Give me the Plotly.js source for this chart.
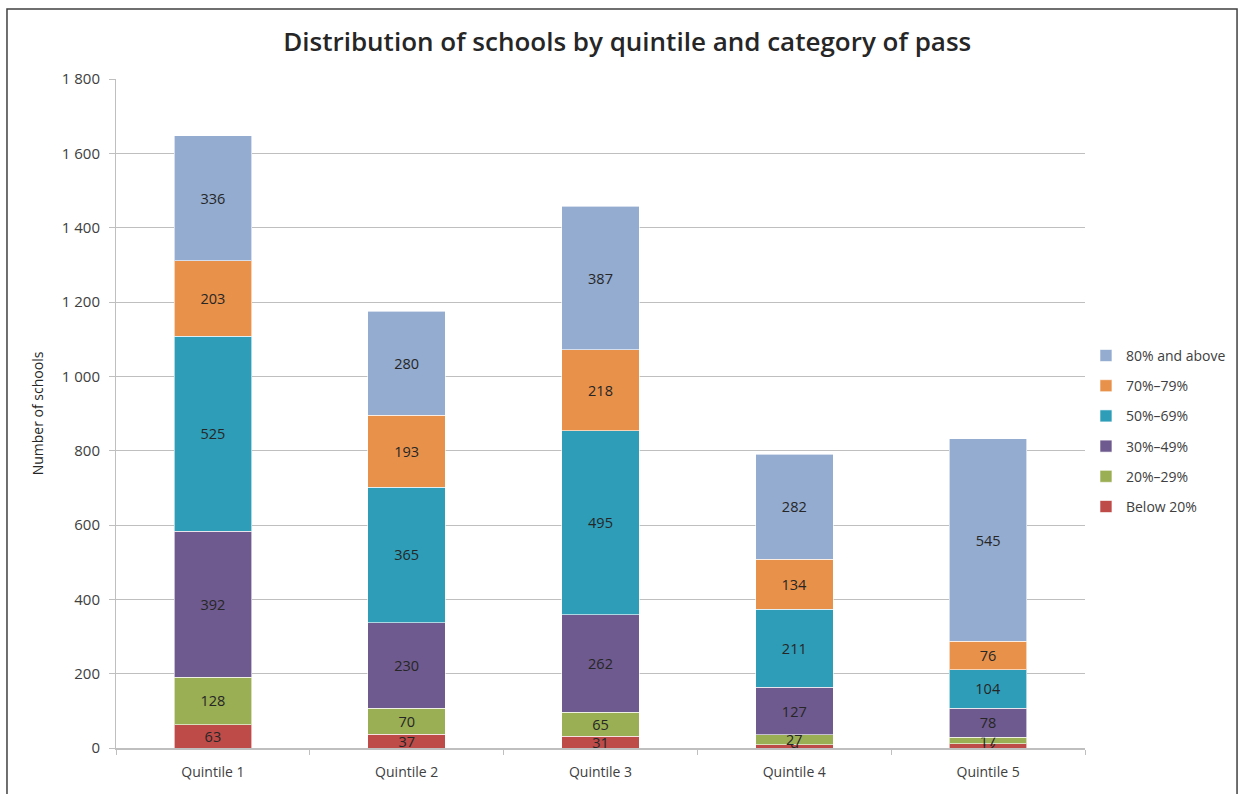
<!DOCTYPE html>
<html>
<head>
<meta charset="utf-8">
<script src="https://cdn.plot.ly/plotly-3.0.1.min.js"></script>
<style>html,body{margin:0;padding:0;background:#fff;}#chart{width:1242px;height:794px;}</style>
</head>
<body>
<div id="chart"></div>
<script>
const categories = ["Quintile 1", "Quintile 2", "Quintile 3", "Quintile 4", "Quintile 5"];
const seriesNames = ["Below 20%", "20%–29%", "30%–49%", "50%–69%", "70%–79%", "80% and above"];
const below20 = [63, 37, 31, 9, 12];
const p20to29 = [128, 70, 65, 27, 17];
const p30to49 = [392, 230, 262, 127, 78];
const p50to69 = [525, 365, 495, 211, 104];
const p70to79 = [203, 193, 218, 134, 76];
const p80up = [336, 280, 387, 282, 545];
const yTicks = [0, 200, 400, 600, 800, 1000, 1200, 1400, 1600, 1800];

const seriesValues = [below20, p20to29, p30to49, p50to69, p70to79, p80up];
const colors = ["#BE4B48", "#9AAE54", "#6E5A8E", "#2E9DB8", "#E8914A", "#93ACD0"];

const traces = seriesNames.map((name, i) => ({
  type: "bar",
  name: name,
  x: categories,
  y: seriesValues[i],
  text: seriesValues[i].map(String),
  textposition: "inside",
  insidetextanchor: "middle",
  textangle: 0,
  constraintext: "none",
  textfont: {family: "Open Sans, sans-serif", size: 14.5, color: "#262626"},
  marker: {color: colors[i], line: {color: "rgba(255,255,255,0.6)", width: 1}},
  legendgroup: "g" + i,
  legendrank: seriesNames.length - i,
  hoverinfo: "name+y"
}));

const layout = {
  width: 1242,
  height: 794,
  margin: {l: 116, r: 157, t: 79, b: 46, autoexpand: false},
  paper_bgcolor: "#ffffff",
  plot_bgcolor: "#ffffff",
  barmode: "stack",
  bargap: 0.6,
  separators: ". ",
  font: {family: "Open Sans, sans-serif", size: 14, color: "#404040"},
  title: {
    text: "Distribution of schools by quintile and category of pass",
    font: {family: "Open Sans, sans-serif", size: 26, color: "#262626", weight: 600},
    x: 0.505, xanchor: "center", y: 0.947, yanchor: "middle"
  },
  xaxis: {
    type: "category",
    showgrid: false,
    showline: true,
    linecolor: "#bfbfbf",
    linewidth: 2,
    ticks: "outside",
    tickson: "boundaries",
    ticklen: 5,
    tickcolor: "#bfbfbf",
    ticklabelstandoff: 10,
    tickfont: {size: 14, color: "#404040"},
    zeroline: false
  },
  yaxis: {
    range: [0, 1800],
    tickvals: yTicks,
    tickformat: ",d",
    showgrid: true,
    gridcolor: "#bfbfbf",
    gridwidth: 1,
    showline: true,
    linecolor: "#bfbfbf",
    linewidth: 1,
    ticks: "outside",
    ticklen: 6,
    tickcolor: "#bfbfbf",
    ticklabelstandoff: 6,
    zeroline: false,
    tickfont: {size: 15, color: "#404040"},
    title: {text: "Number of schools", font: {size: 14, color: "#262626"}, standoff: 14}
  },
  legend: {
    x: 1.001, xanchor: "left",
    y: 0.61, yanchor: "top",
    traceorder: "grouped",
    tracegroupgap: 9,
    font: {size: 14, color: "#404040"},
    itemwidth: 30,
    bgcolor: "rgba(0,0,0,0)"
  },
  shapes: [{
    type: "rect", xref: "paper", yref: "paper",
    x0: -0.1125, x1: 1.1569, y0: -0.08, y1: 1.1046,
    line: {color: "#404040", width: 1.5}, fillcolor: "rgba(0,0,0,0)"
  }]
};

Plotly.newPlot("chart", traces, layout, {displayModeBar: false, staticPlot: true});
</script>
</body>
</html>
